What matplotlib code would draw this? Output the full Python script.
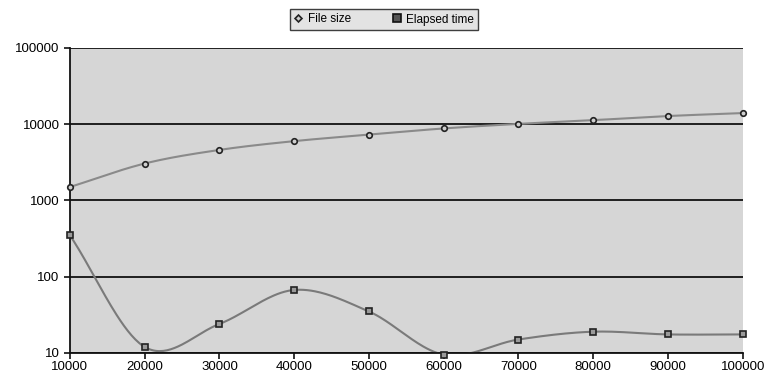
import numpy as np
import matplotlib
matplotlib.use("Agg")
import matplotlib.pyplot as plt
from matplotlib.lines import Line2D

x_vals = [10000, 20000, 30000, 40000, 50000, 60000, 70000, 80000, 90000, 100000]
file_size = [1500, 3050, 4600, 6000, 7300, 8800, 10100, 11300, 12800, 14000]
elapsed_time = [350, 12, 24, 67, 35, 9.5, 15, 19, 17.5, 17.5]
y_ticks = [10, 100, 1000, 10000, 100000]

plt.rcParams['font.family'] = ['Liberation Sans', 'DejaVu Sans']


def smooth(xs, ys, n=40):
    """Catmull-Rom smoothing in (x, log y) space, like a spreadsheet smoothed line."""
    xs = np.asarray(xs, float)
    ly = np.log10(np.asarray(ys, float))
    px = np.concatenate([[2 * xs[0] - xs[1]], xs, [2 * xs[-1] - xs[-2]]])
    py = np.concatenate([[2 * ly[0] - ly[1]], ly, [2 * ly[-1] - ly[-2]]])
    out_x, out_y = [], []
    for i in range(1, len(px) - 2):
        t = np.linspace(0, 1, n, endpoint=(i == len(px) - 3))
        for arr, out in ((px, out_x), (py, out_y)):
            p0, p1, p2, p3 = arr[i - 1], arr[i], arr[i + 1], arr[i + 2]
            out.extend(0.5 * ((2 * p1) + (-p0 + p2) * t
                              + (2 * p0 - 5 * p1 + 4 * p2 - p3) * t ** 2
                              + (-p0 + 3 * p1 - 3 * p2 + p3) * t ** 3))
    return np.array(out_x), 10 ** np.array(out_y)


fig = plt.figure(figsize=(7.68, 3.9), dpi=100)
ax = fig.add_axes([0.091, 0.095, 0.876, 0.782])
ax.set_facecolor('#d6d6d6')
ax.set_yscale('log')
ax.set_xlim(10000, 100000)
ax.set_ylim(10, 100000)

for yt in y_ticks:
    ax.axhline(yt, color='#111111', lw=1.3, zorder=1)

sx, sy = smooth(x_vals, file_size)
ax.plot(sx, sy, color='#8a8a8a', lw=1.5, zorder=2)
ax.plot(x_vals, file_size, ls='none', marker='o', ms=4, mfc='#cfcfcf',
        mec='#222222', mew=1.2, zorder=4, clip_on=False)

sx, sy = smooth(x_vals, elapsed_time)
ax.plot(sx, sy, color='#7a7a7a', lw=1.5, zorder=2)
ax.plot(x_vals, elapsed_time, ls='none', marker='s', ms=5, mfc='#9a9a9a',
        mec='#222222', mew=1.2, zorder=4, clip_on=False)

ax.set_xticks(x_vals)
ax.set_xticklabels([str(v) for v in x_vals])
ax.set_yticks(y_ticks)
ax.set_yticklabels([str(v) for v in y_ticks])
ax.yaxis.set_minor_locator(matplotlib.ticker.NullLocator())
ax.tick_params(axis='both', labelsize=9.5, length=4, width=1.2, color='#111111')
ax.tick_params(axis='x', pad=2)

for side in ('top', 'right'):
    ax.spines[side].set_visible(False)
for side in ('left', 'bottom'):
    ax.spines[side].set_linewidth(1.3)
    ax.spines[side].set_color('#111111')

handles = [
    Line2D([], [], ls='none', marker='D', ms=3.5, mfc='#cfcfcf', mec='#222222', mew=1.2),
    Line2D([], [], ls='none', marker='s', ms=6, mfc='#555555', mec='#111111', mew=1.2),
]
leg = fig.legend(handles, ['File size', 'Elapsed time'], loc='center',
                 bbox_to_anchor=(0.5, 0.95), ncol=2, frameon=True, fancybox=False,
                 fontsize=8.5, handlelength=0.8, handletextpad=0.4, columnspacing=3.5,
                 borderpad=0.35)
leg.get_frame().set_edgecolor('#111111')
leg.get_frame().set_linewidth(1.0)
leg.get_frame().set_facecolor('#dcdcdc')

fig.savefig('out.png', dpi=100, facecolor='white')
